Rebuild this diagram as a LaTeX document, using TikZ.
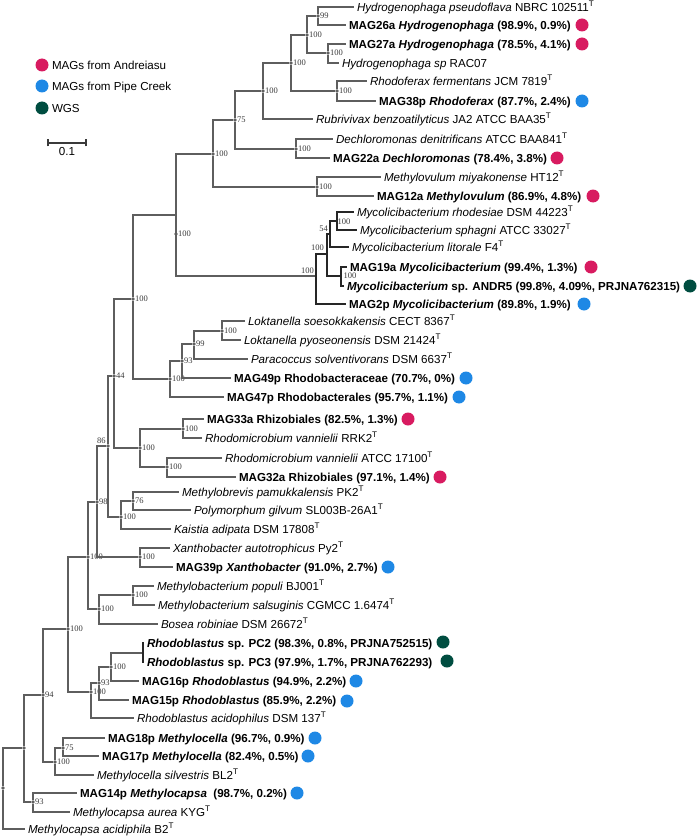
\documentclass[tikz,border=0pt]{standalone}
\usepackage{fontspec}
\setmainfont{Liberation Sans}
\newfontfamily\bsserif{Liberation Serif}
\newcommand{\lf}{\fontsize{11.6}{13}\selectfont}
\newcommand{\bsf}{\bsserif\fontsize{8.5}{9}\selectfont}
\definecolor{cRed}{HTML}{D81B60}
\definecolor{cBlue}{HTML}{1E88E5}
\definecolor{cGreen}{HTML}{004D40}
\definecolor{lineg}{HTML}{5E5E5E}
\definecolor{labg}{HTML}{3A3A3A}
\tikzset{
 br/.style={draw=lineg, line width=1.2pt},
 brk/.style={draw=black!85, line width=1.4pt},
 bs/.style={circle, fill=lineg, inner sep=0pt, minimum size=3.6pt, label distance=2.4pt},
 bl/.style={font=\bsf, text=labg, inner sep=0pt},
 leaf/.style={anchor=west, inner sep=0pt, outer xsep=3pt, text height=8.4pt, text depth=0pt, font=\lf},
 mk/.style={circle, inner sep=0pt, minimum size=13pt},
}
\begin{document}
\begin{tikzpicture}[x=1pt,y=-1pt]
\useasboundingbox (0,0) rectangle (697,837);
% legend
\node[mk,fill=cRed] (g1) at (42,65) {};
\node[mk,fill=cBlue] (g2) at (42,86) {};
\node[mk,fill=cGreen] (g3) at (42,108) {};
\node[leaf] (gt1) at (49,65) {MAGs from Andreiasu};
\node[leaf] (gt2) at (49,86) {MAGs from Pipe Creek};
\node[leaf] (gt3) at (49,108) {WGS};
% scale bar
\coordinate (s1) at (48,143);
\coordinate (s2) at (86,143);
\draw[br,draw=labg] (s1) -- (s2);
\draw[br,draw=labg] ([yshift=-3.5pt]s1) -- ([yshift=3.5pt]s1);
\draw[br,draw=labg] ([yshift=-3.5pt]s2) -- ([yshift=3.5pt]s2);
\node[font=\lf, inner sep=0pt, text height=8.4pt, text depth=0pt] (sl) at (67,151) {0.1};

% internal nodes
\node[bs,label={[bl]right:99}] (n99a) at (318,16) {};
\node[bs,label={[bl]right:100}] (nH2) at (328,53) {};
\node[bs,label={[bl]right:100}] (nH1) at (307,35) {};
\node[bs,label={[bl]right:100}] (nRf) at (337,91) {};
\node[bs,label={[bl]right:100}] (nH0) at (291,63) {};
\node[bs,label={[bl]right:100}] (n263) at (263,91) {};
\node[bs,label={[bl]right:100}] (nD) at (296,149) {};
\node[bs,label={[bl]right:75}] (n75) at (235,120) {};
\node[bs,label={[bl]right:100}] (nMv) at (317,187) {};
\node[bs,label={[bl]right:100}] (n213) at (213,154) {};
\coordinate (n176) at (176,215);
\node[bs,label={[bl]right:100}] (d176) at (176,234) {};
\coordinate (nMA) at (316,276);
\coordinate (nMB) at (327,254);
\coordinate (nM54) at (330,234);
\coordinate (nMD) at (337,221);
\coordinate (nMC) at (341,276);
\node[bl] (tMA) at (307.5,271) {100};
\node[bl] (tMB) at (317.5,248) {100};
\node[bl] (tM54) at (323.5,229) {54};
\node[bl] (tMD) at (344,222) {100};
\node[bl] (tMC) at (350,276) {100};
\node[bs,label={[bl]right:100}] (n133) at (133,299) {};
\node[bs,label={[bl]right:100}] (nRb) at (170,379) {};
\node[bs,label={[bl]right:93}] (n93a) at (182,361) {};
\node[bs,label={[bl]right:99}] (n99b) at (194,344) {};
\node[bs,label={[bl]right:100}] (nLk) at (222,331) {};
\node[bs,label={[bl]right:44}] (n44) at (114,376) {};
\node[bs,label={[bl]right:100}] (nRz) at (140,448) {};
\node[bs,label={[bl]right:100}] (nRz1) at (183,429) {};
\node[bs,label={[bl]right:100}] (nRz2) at (167,467) {};
\node[bs,label={[bl,label distance=1pt]above left:86}] (n86) at (108,446) {};
\node[bs,label={[bl]right:100}] (nK) at (121,517) {};
\node[bs,label={[bl]right:76}] (n76) at (133,501) {};
\node[bs,label={[bl]right:98}] (n98) at (97,502) {};
\node[bs,label={[bl]right:100}] (nX) at (140,557) {};
\node[bs,label={[bl]right:100}] (n88) at (88,557) {};
\node[bs,label={[bl]right:100}] (nB) at (99,609) {};
\node[bs,label={[bl]right:100}] (nMb) at (133,595) {};
\node[bs,label={[bl]right:100}] (n68) at (68,629) {};
\node[bs,label={[bl]right:100}] (nRb100) at (91,692) {};
\node[bs,label={[bl]right:93}] (n93b) at (99,683) {};
\node[bs,label={[bl]right:100}] (nR100) at (111,667) {};
\coordinate (nPC) at (143,653);
\node[bs,label={[bl]right:94}] (n94) at (43,695) {};
\node[bs,label={[bl]right:100}] (nMc) at (55,762) {};
\node[bs,label={[bl]right:75}] (n75b) at (63,748) {};
\node[bs] (nX24) at (24,748) {};
\node[bs,label={[bl]right:93}] (n93c) at (33,802) {};
\node[bs] (nRoot) at (3,788) {};

% leaves
\node[leaf] (L1) at (354,7) {\textit{Hydrogenophaga pseudoflava} NBRC 102511\textsuperscript{T}};
\node[leaf] (L2) at (346,25) {\textbf{MAG26a \textit{Hydrogenophaga} (98.9\%, 0.9\%)}};
\node[leaf] (L3) at (346,44) {\textbf{MAG27a \textit{Hydrogenophaga} (78.5\%, 4.1\%)}};
\node[leaf] (L4) at (339,63) {\textit{Hydrogenophaga sp} RAC07};
\node[leaf] (L5) at (367,81) {\textit{Rhodoferax fermentans} JCM 7819\textsuperscript{T}};
\node[leaf] (L6) at (376,101) {\textbf{MAG38p \textit{Rhodoferax} (87.7\%, 2.4\%)}};
\node[leaf] (L7) at (313,119) {\textit{Rubrivivax benzoatilyticus} JA2 ATCC BAA35\textsuperscript{T}};
\node[leaf] (L8) at (333,139) {\textit{Dechloromonas denitrificans} ATCC BAA841\textsuperscript{T}};
\node[leaf] (L9) at (330,158) {\textbf{MAG22a \textit{Dechloromonas} (78.4\%, 3.8\%)}};
\node[leaf] (L10) at (381,177) {\textit{Methylovulum miyakonense} HT12\textsuperscript{T}};
\node[leaf] (L11) at (374,196) {\textbf{MAG12a \textit{Methylovulum} (86.9\%, 4.8\%)}};
\node[leaf] (L12) at (354,212) {\textit{Mycolicibacterium rhodesiae} DSM 44223\textsuperscript{T}};
\node[leaf] (L13) at (357,230) {\textit{Mycolicibacterium sphagni} ATCC 33027\textsuperscript{T}};
\node[leaf] (L14) at (349,247) {\textit{Mycolicibacterium litorale} F4\textsuperscript{T}};
\node[leaf] (L15) at (347,267) {\textbf{MAG19a \textit{Mycolicibacterium} (99.4\%, 1.3\%)}};
\node[leaf] (L16) at (344,286) {\textbf{\textit{Mycolicibacterium} sp. ANDR5 (99.8\%, 4.09\%, PRJNA762315)}};
\node[leaf] (L17) at (346,304) {\textbf{MAG2p \textit{Mycolicibacterium} (89.8\%, 1.9\%)}};
\node[leaf] (L18) at (245,321) {\textit{Loktanella soesokkakensis} CECT 8367\textsuperscript{T}};
\node[leaf] (L19) at (241,340) {\textit{Loktanella pyoseonensis} DSM 21424\textsuperscript{T}};
\node[leaf] (L20) at (248,359) {\textit{Paracoccus solventivorans} DSM 6637\textsuperscript{T}};
\node[leaf] (L21) at (231,378) {\textbf{MAG49p Rhodobacteraceae (70.7\%, 0\%)}};
\node[leaf] (L22) at (224,397) {\textbf{MAG47p Rhodobacterales (95.7\%, 1.1\%)}};
\node[leaf] (L23) at (204,419) {\textbf{MAG33a Rhizobiales (82.5\%, 1.3\%)}};
\node[leaf] (L24) at (202,438) {\textit{Rhodomicrobium vannielii} RRK2\textsuperscript{T}};
\node[leaf] (L25) at (222,458) {\textit{Rhodomicrobium vannielii} ATCC 17100\textsuperscript{T}};
\node[leaf] (L26) at (236,477) {\textbf{MAG32a Rhizobiales (97.1\%, 1.4\%)}};
\node[leaf] (L27) at (179,492) {\textit{Methylobrevis pamukkalensis} PK2\textsuperscript{T}};
\node[leaf] (L28) at (191,510) {\textit{Polymorphum gilvum} SL003B-26A1\textsuperscript{T}};
\node[leaf] (L29) at (171,529) {\textit{Kaistia adipata} DSM 17808\textsuperscript{T}};
\node[leaf] (L30) at (170,548) {\textit{Xanthobacter autotrophicus} Py2\textsuperscript{T}};
\node[leaf] (L31) at (173,567) {\textbf{MAG39p \textit{Xanthobacter} (91.0\%, 2.7\%)}};
\node[leaf] (L32) at (154,586) {\textit{Methylobacterium populi} BJ001\textsuperscript{T}};
\node[leaf] (L33) at (155,605) {\textit{Methylobacterium salsuginis} CGMCC 1.6474\textsuperscript{T}};
\node[leaf] (L34) at (158,624) {\textit{Bosea robiniae} DSM 26672\textsuperscript{T}};
\node[leaf] (L35) at (144,643) {\textbf{\textit{Rhodoblastus} sp. PC2 (98.3\%, 0.8\%, PRJNA752515)}};
\node[leaf] (L36) at (144,662) {\textbf{\textit{Rhodoblastus} sp. PC3 (97.9\%, 1.7\%, PRJNA762293)}};
\node[leaf] (L37) at (139,681) {\textbf{MAG16p \textit{Rhodoblastus} (94.9\%, 2.2\%)}};
\node[leaf] (L38) at (129,700) {\textbf{MAG15p \textit{Rhodoblastus} (85.9\%, 2.2\%)}};
\node[leaf] (L39) at (134,718) {\textit{Rhodoblastus acidophilus} DSM 137\textsuperscript{T}};
\node[leaf] (L40) at (105,738) {\textbf{MAG18p \textit{Methylocella} (96.7\%, 0.9\%)}};
\node[leaf] (L41) at (99,756) {\textbf{MAG17p \textit{Methylocella} (82.4\%, 0.5\%)}};
\node[leaf] (L42) at (94,775) {\textit{Methylocella silvestris} BL2\textsuperscript{T}};
\node[leaf] (L43) at (77,793) {\textbf{MAG14p \textit{Methylocapsa}\ \ (98.7\%, 0.2\%)}};
\node[leaf] (L44) at (70,812) {\textit{Methylocapsa aurea} KYG\textsuperscript{T}};
\node[leaf] (L45) at (25,829) {\textit{Methylocapsa acidiphila} B2\textsuperscript{T}};

% markers
\node[mk,fill=cRed] (c2) at (582,25) {};
\node[mk,fill=cRed] (c3) at (582,44) {};
\node[mk,fill=cBlue] (c6) at (582,101) {};
\node[mk,fill=cRed] (c9) at (557,158) {};
\node[mk,fill=cRed] (c11) at (593,196) {};
\node[mk,fill=cRed] (c15) at (591,267) {};
\node[mk,fill=cGreen] (c16) at (690,286) {};
\node[mk,fill=cBlue] (c17) at (584,304) {};
\node[mk,fill=cBlue] (c21) at (466,378) {};
\node[mk,fill=cBlue] (c22) at (459,397) {};
\node[mk,fill=cRed] (c23) at (408,419) {};
\node[mk,fill=cRed] (c26) at (440,477) {};
\node[mk,fill=cBlue] (c31) at (388,567) {};
\node[mk,fill=cGreen] (c35) at (443,642) {};
\node[mk,fill=cGreen] (c36) at (447,661) {};
\node[mk,fill=cBlue] (c37) at (356,681) {};
\node[mk,fill=cBlue] (c38) at (347,701) {};
\node[mk,fill=cBlue] (c40) at (315,738) {};
\node[mk,fill=cBlue] (c41) at (308,756) {};
\node[mk,fill=cBlue] (c43) at (297,793) {};

% branches
\draw[br] (n99a) |- (L1);
\draw[br] (n99a) |- (L2);
\draw[br] (nH2) |- (L3);
\draw[br] (nH2) |- (L4);
\draw[br] (nH1) |- (n99a);
\draw[br] (nH1) |- (nH2);
\draw[br] (nRf) |- (L5);
\draw[br] (nRf) |- (L6);
\draw[br] (nH0) |- (nH1);
\draw[br] (nH0) |- (nRf);
\draw[br] (n263) |- (nH0);
\draw[br] (n263) |- (L7);
\draw[br] (nD) |- (L8);
\draw[br] (nD) |- (L9);
\draw[br] (n75) |- (n263);
\draw[br] (n75) |- (nD);
\draw[br] (nMv) |- (L10);
\draw[br] (nMv) |- (L11);
\draw[br] (n213) |- (n75);
\draw[br] (n213) |- (nMv);
\draw[br] (n176) |- (n213);
\draw[br] (n176) |- (nMA);
\draw[brk] (nMA) |- (nMB);
\draw[brk] (nMA) |- (L17);
\draw[brk] (nMB) |- (nM54);
\draw[brk] (nMB) |- (nMC);
\draw[brk] (nM54) |- (nMD);
\draw[brk] (nM54) |- (L14);
\draw[brk] (nMD) |- (L12);
\draw[brk] (nMD) |- (L13);
\draw[brk] (nMC) |- (L15);
\draw[brk] (nMC) |- (L16);
\draw[br] (n133) |- (n176);
\draw[br] (n133) |- (nRb);
\draw[br] (nRb) |- (n93a);
\draw[br] (nRb) |- (L22);
\draw[br] (n93a) |- (n99b);
\draw[br] (n93a) |- (L21);
\draw[br] (n99b) |- (nLk);
\draw[br] (n99b) |- (L20);
\draw[br] (nLk) |- (L18);
\draw[br] (nLk) |- (L19);
\draw[br] (n44) |- (n133);
\draw[br] (n44) |- (nRz);
\draw[br] (nRz) |- (nRz1);
\draw[br] (nRz) |- (nRz2);
\draw[br] (nRz1) |- (L23);
\draw[br] (nRz1) |- (L24);
\draw[br] (nRz2) |- (L25);
\draw[br] (nRz2) |- (L26);
\draw[br] (n86) |- (n44);
\draw[br] (n86) |- (nK);
\draw[br] (nK) |- (n76);
\draw[br] (nK) |- (L29);
\draw[br] (n76) |- (L27);
\draw[br] (n76) |- (L28);
\draw[br] (n98) |- (n86);
\draw[br] (n98) |- (nX);
\draw[br] (nX) |- (L30);
\draw[br] (nX) |- (L31);
\draw[br] (n88) |- (n98);
\draw[br] (n88) |- (nB);
\draw[br] (nB) |- (nMb);
\draw[br] (nB) |- (L34);
\draw[br] (nMb) |- (L32);
\draw[br] (nMb) |- (L33);
\draw[br] (n68) |- (n88);
\draw[br] (n68) |- (nRb100);
\draw[br] (nRb100) |- (n93b);
\draw[br] (nRb100) |- (L39);
\draw[br] (n93b) |- (nR100);
\draw[br] (n93b) |- (L38);
\draw[br] (nR100) |- (nPC);
\draw[br] (nR100) |- (L37);
\draw[brk] (nPC) |- (L35);
\draw[brk] (nPC) |- (L36);
\draw[br] (n94) |- (n68);
\draw[br] (n94) |- (nMc);
\draw[br] (nMc) |- (n75b);
\draw[br] (nMc) |- (L42);
\draw[br] (n75b) |- (L40);
\draw[br] (n75b) |- (L41);
\draw[br] (nX24) |- (n94);
\draw[br] (nX24) |- (n93c);
\draw[br] (n93c) |- (L43);
\draw[br] (n93c) |- (L44);
\draw[br] (nRoot) |- (nX24);
\draw[br] (nRoot) |- (L45);
\end{tikzpicture}
\end{document}
